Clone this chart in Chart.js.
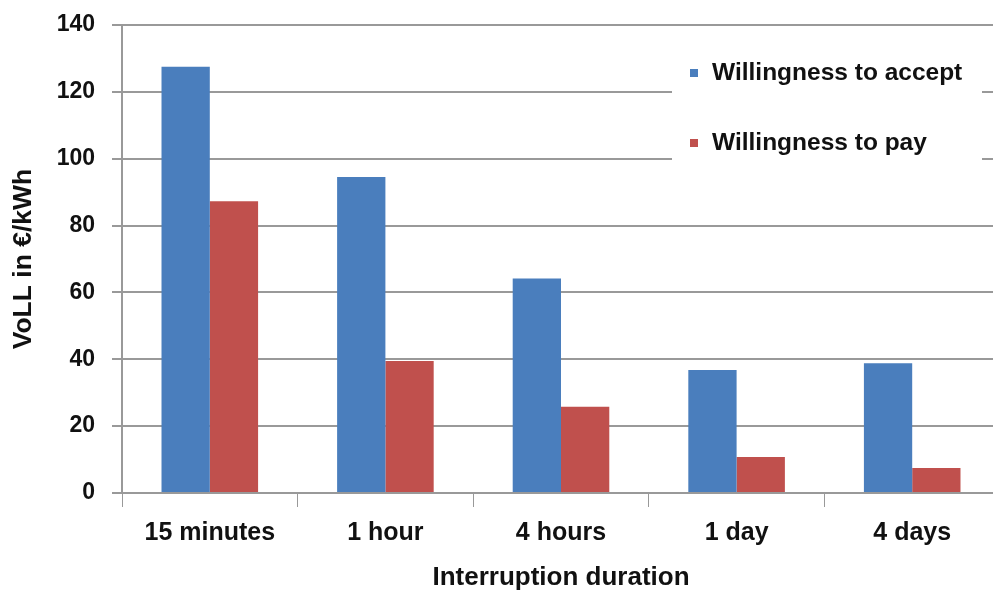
<!DOCTYPE html>
<html>
<head>
<meta charset="utf-8">
<script src="https://cdn.jsdelivr.net/npm/chart.js@4/dist/chart.umd.min.js"></script>
<style>
  html, body { margin: 0; padding: 0; background: #fff; overflow: hidden; }
  #wrap { position: relative; width: 1002px; height: 591px; }
</style>
</head>
<body>
<div id="wrap"><canvas id="c"></canvas></div>
<script>
// Interruption durations on the x axis
const durations = ['15 minutes', '1 hour', '4 hours', '1 day', '4 days'];
// Value of lost load, €/kWh
const willingnessToAccept = [127.5, 94.5, 64.2, 36.8, 38.8];
const willingnessToPay = [87.3, 39.5, 25.8, 10.8, 7.5];
// Y axis range and step
const yMin = 0;
const yMax = 140;
const yStep = 20;

const FONT = '"Liberation Sans", Arial, sans-serif';
const GRID = '#999999';

// Legend drawn inside the plot, top right, on a white box
const insideLegend = {
  id: 'insideLegend',
  afterDraw(chart) {
    const ctx = chart.ctx;
    const area = chart.chartArea;
    const boxLeft = area.right - 328;
    const boxRight = area.right - 18;
    ctx.save();
    ctx.fillStyle = '#ffffff';
    ctx.fillRect(boxLeft, area.top + 15, boxRight - boxLeft, 128);
    ctx.font = 'bold 24.5px ' + FONT;
    ctx.textBaseline = 'middle';
    ctx.textAlign = 'left';
    chart.data.datasets.forEach((ds, i) => {
      const y = area.top + 48 + i * 70;
      ctx.fillStyle = ds.backgroundColor;
      ctx.fillRect(boxLeft + 18, y - 4, 8, 8);
      ctx.fillStyle = '#111';
      ctx.fillText(ds.label, boxLeft + 40, y);
    });
    ctx.restore();
  }
};

new Chart(document.getElementById('c'), {
  type: 'bar',
  data: {
    labels: durations,
    datasets: [
      { label: 'Willingness to accept', data: willingnessToAccept, backgroundColor: '#4a7ebd' },
      { label: 'Willingness to pay', data: willingnessToPay, backgroundColor: '#c0504d' }
    ]
  },
  options: {
    responsive: true,
    maintainAspectRatio: false,
    animation: false,
    devicePixelRatio: 1,
    categoryPercentage: 0.55,
    barPercentage: 1.0,
    layout: { padding: { top: 25, right: 2, bottom: 0, left: 0 } },
    plugins: {
      legend: { display: false },
      tooltip: { enabled: false }
    },
    scales: {
      x: {
        grid: { display: true, drawOnChartArea: false, drawTicks: true, tickLength: 14, color: GRID, offset: true },
        border: { display: true, color: GRID, width: 2 },
        ticks: { color: '#111', font: { family: FONT, size: 25, weight: 'bold' }, padding: 11, maxRotation: 0 },
        title: { display: true, text: 'Interruption duration', color: '#111', font: { family: FONT, size: 26, weight: 'bold' }, padding: { top: 0, bottom: -2 } },
        afterFit(scale) { scale.height = 98; }
      },
      y: {
        min: yMin,
        max: yMax,
        grid: { color: GRID, lineWidth: 2, tickLength: 10, drawTicks: true },
        border: { display: true, color: GRID, width: 2 },
        ticks: { stepSize: yStep, color: '#111', font: { family: FONT, size: 23, weight: 'bold' }, padding: 17 },
        title: { display: true, text: 'VoLL in €/kWh', color: '#111', font: { family: FONT, size: 26.5, weight: 'bold' }, padding: { top: 8, bottom: 0 } },
        afterFit(scale) {
          scale.width = 122;
          // let the layout padding alone set the top of the plot
          scale.paddingTop = 0;
          scale.paddingBottom = 0;
        }
      }
    }
  },
  plugins: [insideLegend]
});
</script>
</body>
</html>
